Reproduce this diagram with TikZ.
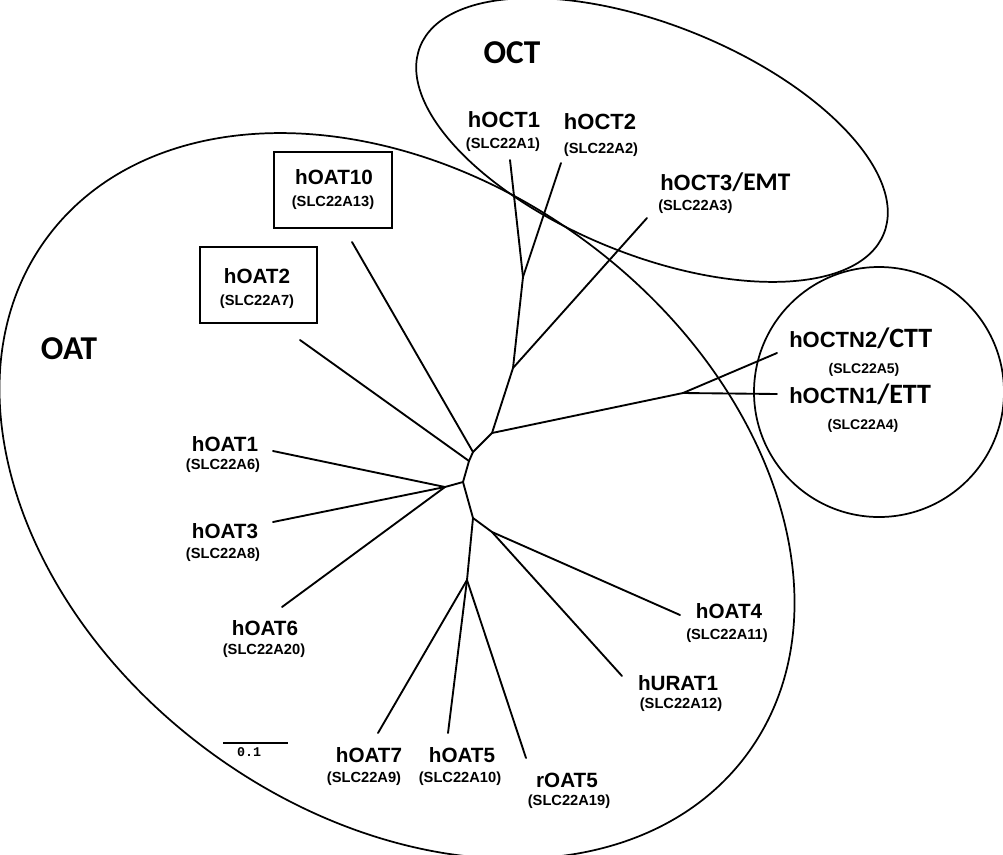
\documentclass[tikz,border=0pt]{standalone}
\usepackage{fontspec}
\setmainfont{Liberation Sans}
\newfontfamily\arialf{Liberation Sans}
\newfontfamily\calf{Carlito}
\newfontfamily\monof{Liberation Mono}
\tikzset{
  branch/.style={line width=1.4pt, line cap=round, line join=round},
  group/.style={line width=1.3pt},
  lab/.style={inner sep=0pt, font=\arialf\bfseries\fontsize{15.5}{17}\selectfont},
  labbig/.style={inner sep=0pt, font=\arialf\bfseries\fontsize{16.5}{18}\selectfont},
  sub/.style={inner sep=0pt, font=\arialf\bfseries\fontsize{11}{13}\selectfont},
  subsm/.style={inner sep=0pt, font=\arialf\bfseries\fontsize{10.5}{12}\selectfont},
  grouptitle/.style={inner sep=0pt, font=\calf\bfseries\fontsize{25}{28}\selectfont},
  labbox/.style={draw, line width=1.3pt, inner sep=0pt},
}
\begin{document}
\begin{tikzpicture}[x=0.75pt, y=-0.75pt]
\useasboundingbox (0,0) rectangle (1003,854);
\fill[white] (0,0) rectangle (1003,854);
\clip (0,0) rectangle (1003,854);

% group outlines
\draw[group, rotate around={-36.4:(397,496)}] (397,496) ellipse [x radius=435, y radius=317];
\draw[group, rotate around={-22:(652,140)}] (652,140) ellipse [x radius=250, y radius=115];
\draw[group] (879,392) circle [radius=125];

% group titles
\node[grouptitle] (octT) at (512,53) {OCT};
\node[grouptitle] (oatT) at (69,349) {OAT};

% internal nodes
\coordinate (n1) at (473,452);
\coordinate (n1b) at (469,461);
\coordinate (n2) at (492,433);
\coordinate (n3) at (463,482);
\coordinate (n4) at (445,487);
\coordinate (n5) at (473,518);
\coordinate (n6) at (492,532);
\coordinate (n7) at (467,580);
\coordinate (n8) at (513,368);
\coordinate (n9) at (523,277);
\coordinate (n10) at (683,393);

% leaf ends
\coordinate (lOCT1) at (510,160);
\coordinate (lOCT2) at (561,163);
\coordinate (lOCT3) at (647,218);
\coordinate (lOCTN2) at (777,353);
\coordinate (lOCTN1) at (777,394);
\coordinate (lOAT10) at (352,242);
\coordinate (lOAT2) at (300,340);
\coordinate (lOAT1) at (273,451);
\coordinate (lOAT3) at (273,522);
\coordinate (lOAT6) at (282,607);
\coordinate (lOAT7) at (378,733);
\coordinate (lOAT5) at (448,733);
\coordinate (lrOAT5) at (526,758);
\coordinate (lURAT1) at (622,676);
\coordinate (lOAT4) at (680,615);

% branches
\draw[branch] (n1) -- (n2) -- (n8) -- (n9) -- (lOCT1);
\draw[branch] (n9) -- (lOCT2);
\draw[branch] (n8) -- (lOCT3);
\draw[branch] (n2) -- (n10) -- (lOCTN2);
\draw[branch] (n10) -- (lOCTN1);
\draw[branch] (lOAT10) -- (n1) -- (n1b) -- (n3) -- (n5) -- (n7) -- (lOAT5);
\draw[branch] (lOAT2) -- (n1b);
\draw[branch] (n3) -- (n4) -- (lOAT1);
\draw[branch] (n4) -- (lOAT3);
\draw[branch] (n4) -- (lOAT6);
\draw[branch] (n5) -- (n6) -- (lOAT4);
\draw[branch] (n6) -- (lURAT1);
\draw[branch] (n7) -- (lOAT7);
\draw[branch] (n7) -- (lrOAT5);

% boxes
\node[labbox, minimum width=88.5pt, minimum height=57pt] (box10) at (333,190) {};
\node[labbox, minimum width=87.75pt, minimum height=57pt] (box2) at (258.5,285) {};

% labels
\node[labbig] (tOCT1) at (504,120) {hOCT1};
\node[sub] (sOCT1) at (503,145) {(SLC22A1)};
\node[labbig] (tOCT2) at (600,122) {hOCT2};
\node[sub] (sOCT2) at (601,150) {(SLC22A2)};
\node[labbig, anchor=base west] (tOCT3) at (660,190) {hOCT3{\calf\bfseries\fontsize{19}{21}\selectfont/EMT}};
\node[sub, anchor=west] (sOCT3) at (658,207) {(SLC22A3)};
\node[labbig, anchor=base west] (tOCTN2) at (789,347) {hOCTN2{\calf\bfseries\fontsize{21}{23}\selectfont/CTT}};
\node[subsm] (sOCTN2) at (864,370) {(SLC22A5)};
\node[labbig, anchor=base west] (tOCTN1) at (789,403) {hOCTN1{\calf\bfseries\fontsize{21}{23}\selectfont/ETT}};
\node[subsm] (sOCTN1) at (863,426) {(SLC22A4)};
\node[lab] (tOAT10) at (334,177) {hOAT10};
\node[sub] (sOAT10) at (333,203) {(SLC22A13)};
\node[lab] (tOAT2) at (257,276) {hOAT2};
\node[sub] (sOAT2) at (257,302) {(SLC22A7)};
\node[lab] (tOAT1) at (225,444) {hOAT1};
\node[sub] (sOAT1) at (223,466) {(SLC22A6)};
\node[lab] (tOAT3) at (225,531) {hOAT3};
\node[sub] (sOAT3) at (223,555) {(SLC22A8)};
\node[lab] (tOAT6) at (265,628) {hOAT6};
\node[sub] (sOAT6) at (264,651) {(SLC22A20)};
\node[lab] (tOAT7) at (369,755) {hOAT7};
\node[sub] (sOAT7) at (364,779) {(SLC22A9)};
\node[lab] (tOAT5) at (462,755) {hOAT5};
\node[sub] (sOAT5) at (460,779) {(SLC22A10)};
\node[lab] (trOAT5) at (567,780) {rOAT5};
\node[sub] (srOAT5) at (569,802) {(SLC22A19)};
\node[lab] (tURAT1) at (678,683) {hURAT1};
\node[sub] (sURAT1) at (681,705) {(SLC22A12)};
\node[lab] (tOAT4) at (729,611) {hOAT4};
\node[sub] (sOAT4) at (727,636) {(SLC22A11)};

% scale bar
\coordinate (sb1) at (223,743);
\coordinate (sb2) at (288,743);
\draw[line width=1.4pt] (sb1) -- (sb2);
\node[inner sep=0pt, font=\monof\bfseries\fontsize{10}{12}\selectfont] (sbl) at (249,752) {0.1};
\end{tikzpicture}
\end{document}
